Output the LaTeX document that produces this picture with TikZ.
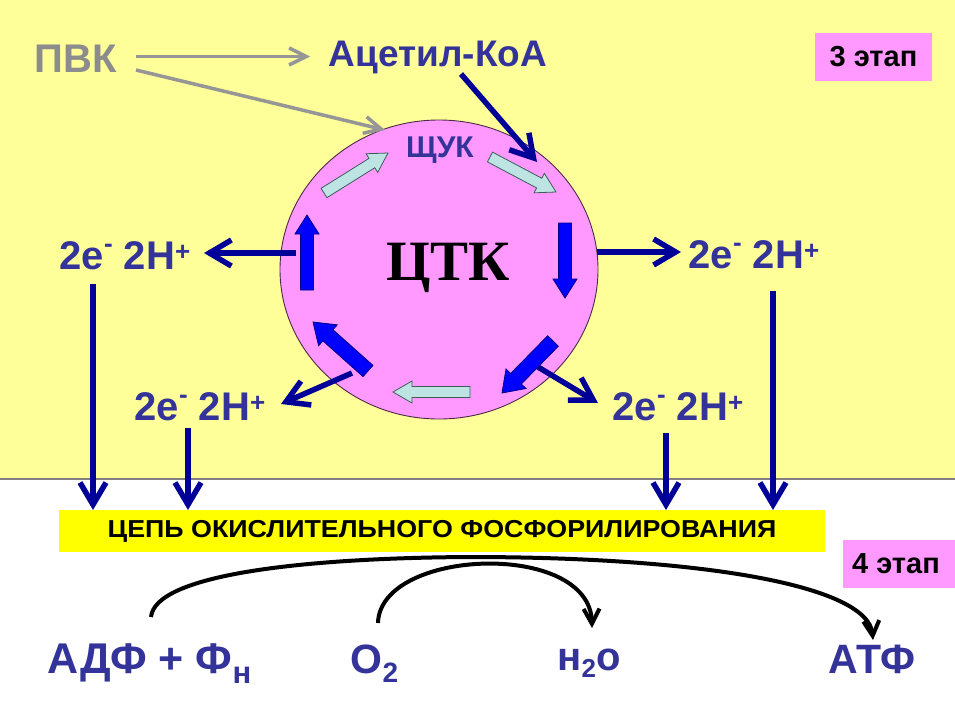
\documentclass[tikz,border=0pt]{standalone}
\usepackage{fontspec}
\setmainfont{Liberation Sans}
\newfontfamily\serifbf{Liberation Serif}
\usetikzlibrary{arrows.meta,calc,shapes.geometric}
\definecolor{bgyel}{HTML}{FFFF99}
\definecolor{boxyel}{HTML}{FFFF00}
\definecolor{pinkc}{HTML}{FF99FF}
\definecolor{circedge}{HTML}{4A2A4A}
\definecolor{lblue}{HTML}{333399}
\definecolor{navy}{HTML}{000099}
\definecolor{pvk}{HTML}{8C8C8C}
\definecolor{garrow}{HTML}{969696}
\definecolor{lightarr}{HTML}{BDE3E3}
\definecolor{lightedge}{HTML}{3D5C5C}
\definecolor{bluearr}{HTML}{0000FF}
\definecolor{blueedge}{HTML}{000080}
\newcommand\myfs[1]{\fontsize{#1}{#1}\selectfont}
% block arrow: style, tail, tip, shaft half width, head half width, head length
\newcommand\blockarr[6]{%
  \coordinate (ba-h) at ($(#3)!#6!(#2)$);
  \draw[#1] ($(#2)!#4!90:(#3)$) -- ($(ba-h)!#4!90:(#3)$) -- ($(ba-h)!#5!90:(#3)$) -- (#3)
    -- ($(ba-h)!#5!-90:(#3)$) -- ($(ba-h)!#4!-90:(#3)$) -- ($(#2)!#4!-90:(#3)$) -- cycle;}
\newcommand\ehh{2e\raisebox{17pt}{\myfs{26}-} 2H\raisebox{9pt}{\myfs{26}+}}
\begin{document}
\begin{tikzpicture}[x=1pt,y=-1pt,
  lbl/.style={text=lblue, font=\bfseries\myfs{40}, inner sep=0pt, anchor=base},
  navyarr/.style={draw=navy, line width=5.5pt, -{Straight Barb[length=22pt,width=26pt]}},
  grayarr/.style={draw=garrow, line width=3.5pt, -{Straight Barb[length=17pt,width=17pt]}},
  blackarr/.style={draw=black, line width=4pt, -{Straight Barb[length=15pt,width=16pt]}},
  lightbar/.style={fill=lightarr, draw=lightedge, line width=0.8pt},
  bluebar/.style={fill=bluearr, draw=blueedge, line width=0.8pt},
  stagebox/.style={fill=pinkc, inner sep=0pt, font=\bfseries\myfs{29}, text=black}]
\useasboundingbox (0,0) rectangle (955,715);
\fill[white] (0,0) rectangle (955,715);
\fill[bgyel] (0,0) rectangle (955,479);
\draw[gray, line width=1.5pt] (0,479) -- (955,479);

% labels top
\node[lbl, text=pvk] (pvk) at (75.5,72) {ПВК};
\node[lbl, font=\bfseries\myfs{37}] (acoa) at (438,66) {Ацетил-КоА};
\node[stagebox, minimum width=117pt, minimum height=48pt] (st3) at (873.5,57) {3 этап};

% circle
\node[ellipse, draw=circedge, fill=pinkc, line width=0.9pt, minimum width=318pt, minimum height=299pt, inner sep=0pt] (ctk) at (439,269.5) {};
\node[anchor=base, inner sep=0pt, font=\serifbf\bfseries\myfs{57}] (ctktxt) at (448,280) {ЦТК};
\node[lbl, font=\bfseries\myfs{30}] (shuk) at (440,157) {ЩУК};

% block arrows in circle
\coordinate (la1t) at (324,193); \coordinate (la1h) at (388,153);
\coordinate (la2t) at (490,157); \coordinate (la2h) at (556,192);
\coordinate (la3t) at (470,392); \coordinate (la3h) at (393,392);
\coordinate (ba1t) at (565,223); \coordinate (ba1h) at (565,298);
\coordinate (ba2t) at (553,341); \coordinate (ba2h) at (502,393);
\coordinate (ba3t) at (368,371); \coordinate (ba3h) at (313,322);
\coordinate (ba4t) at (307,290); \coordinate (ba4h) at (307,215);
\blockarr{lightbar}{la1t}{la1h}{5.5pt}{11pt}{19pt}
\blockarr{lightbar}{la2t}{la2h}{5.5pt}{11pt}{19pt}
\blockarr{lightbar}{la3t}{la3h}{5.5pt}{11pt}{19pt}
\blockarr{bluebar}{ba1t}{ba1h}{6.5pt}{12pt}{19pt}
\blockarr{bluebar}{ba2t}{ba2h}{7.5pt}{14pt}{20pt}
\blockarr{bluebar}{ba3t}{ba3h}{7.5pt}{14pt}{20pt}
\blockarr{bluebar}{ba4t}{ba4h}{6.5pt}{12pt}{19pt}

% 2e 2H labels
\node[lbl] (eLU) at (125,269) {\ehh};
\node[lbl] (eLD) at (200,420) {\ehh};
\node[lbl] (eRU) at (754,268) {\ehh};
\node[lbl] (eRD) at (678,420) {\ehh};

% grey arrows
\coordinate (g1s) at (136,56.5); \coordinate (g1e) at (310,56.5);
\coordinate (g2s) at (136,70); \coordinate (g2e) at (385,130);
\draw[grayarr] (g1s) -- (g1e);
\draw[grayarr] (g2s) -- (g2e);

% navy arrows
\coordinate (acs) at (461,74); \coordinate (ace) at (537,162);
\coordinate (lus) at (296,253); \coordinate (lue) at (204,253);
\coordinate (lds) at (352,373); \coordinate (lde) at (281,404);
\coordinate (rus) at (597,252); \coordinate (rue) at (681,252);
\coordinate (rds) at (538,367); \coordinate (rde) at (598,403);
\draw[navyarr] (acs) -- (ace);
\draw[navyarr] (lus) -- (lue);
\draw[navyarr] (lds) -- (lde);
\draw[navyarr] (rus) -- (rue);
\draw[navyarr] (rds) -- (rde);

% chain box
\node[fill=boxyel, minimum width=766pt, minimum height=42pt, inner sep=0pt, font=\bfseries\myfs{24.5}] (chain) at (442,531) {\scalebox{1.095}[1]{ЦЕПЬ ОКИСЛИТЕЛЬНОГО ФОСФОРИЛИРОВАНИЯ}};
\coordinate (v1s) at (93,284);  \coordinate (v1e) at (93,510);
\coordinate (v2s) at (188,428); \coordinate (v2e) at (188,510);
\coordinate (v3s) at (666,433); \coordinate (v3e) at (666,510);
\coordinate (v4s) at (773,291); \coordinate (v4e) at (773,510);
\draw[navyarr] (v1s) -- (v1e);
\draw[navyarr] (v2s) -- (v2e);
\draw[navyarr] (v3s) -- (v3e);
\draw[navyarr] (v4s) -- (v4e);

% stage 4
\fill[pinkc] (843,540) rectangle (955,588);
\node[inner sep=0pt, font=\bfseries\myfs{29}] (st4) at (896,564) {4 этап};

% bottom labels
\node[lbl, font=\bfseries\myfs{43}] (adf) at (149.5,673) {АДФ + Ф\raisebox{-10pt}{\myfs{31}н}};
\node[lbl, font=\bfseries\myfs{41}] (o2) at (374.5,673) {O\raisebox{-9pt}{\myfs{28}2}};
\node[lbl] (h2o) at (589,670) {н\raisebox{-7pt}{\myfs{26}2}о};
\node[lbl, font=\bfseries\myfs{41}] (atf) at (872,673) {АТФ};

% curved arrows
\coordinate (c1s) at (151,617); \coordinate (c1m) at (469,557); \coordinate (c1e) at (873,640);
\coordinate (c2s) at (378,623); \coordinate (c2e) at (592,628);
\draw[blackarr] (c1s) .. controls (155,575) and (300,558) .. (c1m) .. controls (700,557) and (868,585) .. (c1e);
\draw[blackarr] (c2s) .. controls (380,548) and (590,540) .. (c2e);
\end{tikzpicture}
\end{document}
